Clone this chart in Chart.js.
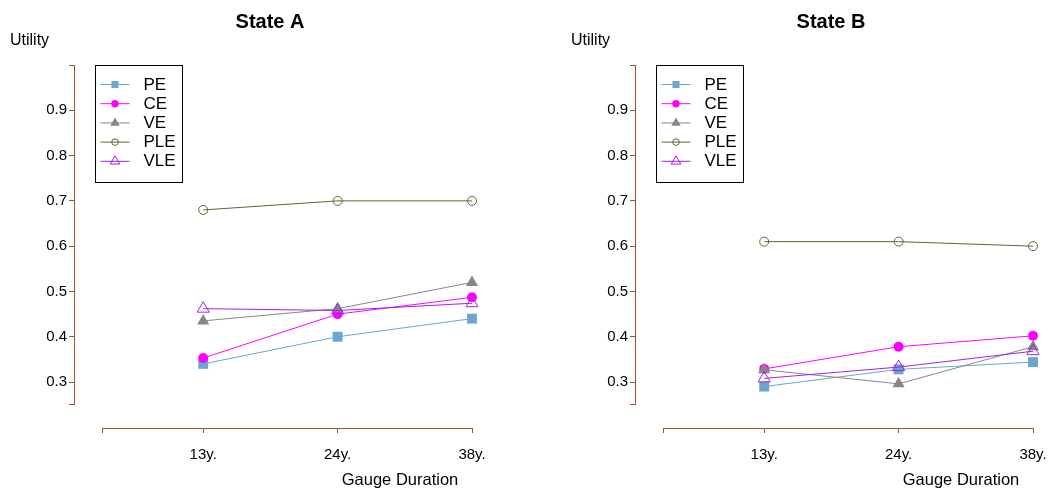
<!DOCTYPE html>
<html>
<head>
<meta charset="utf-8">
<script src="https://cdn.jsdelivr.net/npm/chart.js@4"></script>
<style>
  body { margin: 0; background: #fff; }
  #wrap { position: relative; width: 1049px; height: 489px; }
  canvas { position: absolute; top: 0; }
</style>
</head>
<body>
<div id="wrap">
  <canvas id="chartA" width="561" height="489" style="left:0"></canvas>
  <canvas id="chartB" width="488" height="489" style="left:561px"></canvas>
</div>
<script>
// values
const durations = ["13y.", "24y.", "38y."];
const durationPos = [1, 2, 3];
const seriesNames = ["PE", "CE", "VE", "PLE", "VLE"];

const stateA_PE  = [0.34, 0.40, 0.44];
const stateA_CE  = [0.353, 0.45, 0.487];
const stateA_VE  = [0.435, 0.462, 0.52];
const stateA_PLE = [0.68, 0.70, 0.70];
const stateA_VLE = [0.462, 0.458, 0.474];

const stateB_PE  = [0.29, 0.328, 0.344];
const stateB_CE  = [0.329, 0.378, 0.402];
const stateB_VE  = [0.327, 0.296, 0.378];
const stateB_PLE = [0.61, 0.61, 0.60];
const stateB_VLE = [0.308, 0.333, 0.368];

const yTickValues = [0.25, 0.3, 0.4, 0.5, 0.6, 0.7, 0.8, 0.9, 1.0];
const xTickValues = [0.25, 1, 2, 3];
const xTickLabels = ["", "13y.", "24y.", "38y."];

const font = "'Liberation Sans', Arial, sans-serif";
const axisColor = "#A0522D";

// marker look per series
const looks = [
  { color: "#6CA6CD", fill: "#6CA6CD", style: "rect", r: 7, lr: 5 },
  { color: "#FF00FF", fill: "#FF00FF", style: "circle", r: 5, lr: 3.7 },
  { color: "#8B8589", fill: "#8B8589", style: "triangle", r: 7, lr: 5.5 },
  { color: "#556B2F", fill: "rgba(0,0,0,0)", style: "circle", r: 4.5, lr: 3.3 },
  { color: "#A020F0", fill: "rgba(0,0,0,0)", style: "triangle", r: 7, lr: 5.5 }
];

function makeDatasets(lists) {
  return lists.map((vals, i) => ({
    label: seriesNames[i],
    data: vals.map((v, j) => ({ x: durationPos[j], y: v })),
    borderColor: looks[i].color,
    backgroundColor: looks[i].fill,
    borderWidth: 1,
    pointStyle: looks[i].style,
    pointRadius: looks[i].r,
    pointBackgroundColor: looks[i].fill,
    pointBorderColor: looks[i].color,
    pointBorderWidth: (looks[i].fill === looks[i].color) ? 0 : 1,
    clip: false,
    order: 5 - i
  }));
}

// axes that stop short of the plot corner, plus titles and boxed legend
const extras = {
  id: "extras",
  afterDraw(chart, args, opts) {
    const ctx = chart.ctx, xs = chart.scales.x, ys = chart.scales.y, area = chart.chartArea;
    ctx.save();
    ctx.strokeStyle = axisColor;
    ctx.lineWidth = 1;
    ctx.beginPath();
    const ax = Math.round(area.left) - 0.5;
    ctx.moveTo(ax, ys.getPixelForValue(1.0));
    ctx.lineTo(ax, ys.getPixelForValue(0.25));
    const ay = Math.round(area.bottom) + 0.5;
    ctx.moveTo(xs.getPixelForValue(0.25), ay);
    ctx.lineTo(xs.getPixelForValue(3), ay);
    ctx.stroke();

    ctx.fillStyle = "#000";
    ctx.textBaseline = "alphabetic";
    ctx.font = "bold 20px " + font;
    ctx.textAlign = "center";
    ctx.fillText(opts.title, 270, 28);
    ctx.font = "16px " + font;
    ctx.textAlign = "left";
    ctx.fillText("Utility", 10, 45);
    ctx.font = "16.5px " + font;
    ctx.textAlign = "center";
    ctx.fillText("Gauge Duration", 400, 485);

    // legend
    const lx = Math.round(area.left + 20) + 0.5, ly = Math.round(area.top) + 0.5;
    ctx.strokeStyle = "#000";
    ctx.strokeRect(lx, ly, 87, 117);
    chart.data.datasets.forEach((ds, i) => {
      const ry = ly + 19 + i * 19.2;
      ctx.strokeStyle = ds.borderColor;
      ctx.lineWidth = 1;
      ctx.beginPath();
      ctx.moveTo(lx + 5, ry);
      ctx.lineTo(lx + 34, ry);
      ctx.stroke();
      ctx.fillStyle = ds.pointBackgroundColor;
      ctx.strokeStyle = ds.pointBorderColor;
      ctx.lineWidth = ds.pointBorderWidth;
      Chart.helpers.drawPoint(ctx, {
        pointStyle: ds.pointStyle, radius: looks[i].lr, rotation: 0,
        borderWidth: ds.pointBorderWidth
      }, lx + 19.5, ry);
      ctx.fillStyle = "#000";
      ctx.font = "17px " + font;
      ctx.textAlign = "left";
      ctx.textBaseline = "middle";
      ctx.fillText(ds.label, lx + 48, ry + 0.5);
    });
    ctx.restore();
  }
};

function makeChart(id, title, lists, rightPad) {
  return new Chart(document.getElementById(id), {
    type: "line",
    data: { datasets: makeDatasets(lists) },
    plugins: [extras],
    options: {
      responsive: false,
      animation: false,
      layout: { padding: { top: 65, right: rightPad, left: 0, bottom: 0 } },
      plugins: {
        legend: { display: false },
        tooltip: { enabled: false },
        extras: { title: title }
      },
      scales: {
        x: {
          type: "linear", min: 0.046, max: 3, bounds: "data",
          afterBuildTicks: s => { s.ticks = xTickValues.map(v => ({ value: v })); },
          afterFit: s => { s.height = 61; s.paddingLeft = 0; s.paddingRight = 0; },
          ticks: {
            callback: (v, i) => xTickLabels[i],
            font: { size: 15, family: font }, color: "#000",
            padding: 13, maxRotation: 0, autoSkip: false
          },
          grid: { drawOnChartArea: false, drawTicks: true, tickLength: 5, color: axisColor },
          border: { display: false }
        },
        y: {
          type: "linear", min: 0.1985, max: 1.0, bounds: "data",
          afterBuildTicks: s => { s.ticks = yTickValues.map(v => ({ value: v })); },
          afterFit: s => { s.width = 75; s.paddingTop = 0; s.paddingBottom = 0; },
          ticks: {
            callback: v => (v > 0.26 && v < 0.95) ? v.toFixed(1) : "",
            font: { size: 15, family: font }, color: "#000",
            padding: 2, autoSkip: false
          },
          grid: { drawOnChartArea: false, drawTicks: true, tickLength: 6, color: axisColor },
          border: { display: false }
        }
      }
    }
  });
}

makeChart("chartA", "State A", [stateA_PE, stateA_CE, stateA_VE, stateA_PLE, stateA_VLE], 89);
makeChart("chartB", "State B", [stateB_PE, stateB_CE, stateB_VE, stateB_PLE, stateB_VLE], 16);
</script>
</body>
</html>
